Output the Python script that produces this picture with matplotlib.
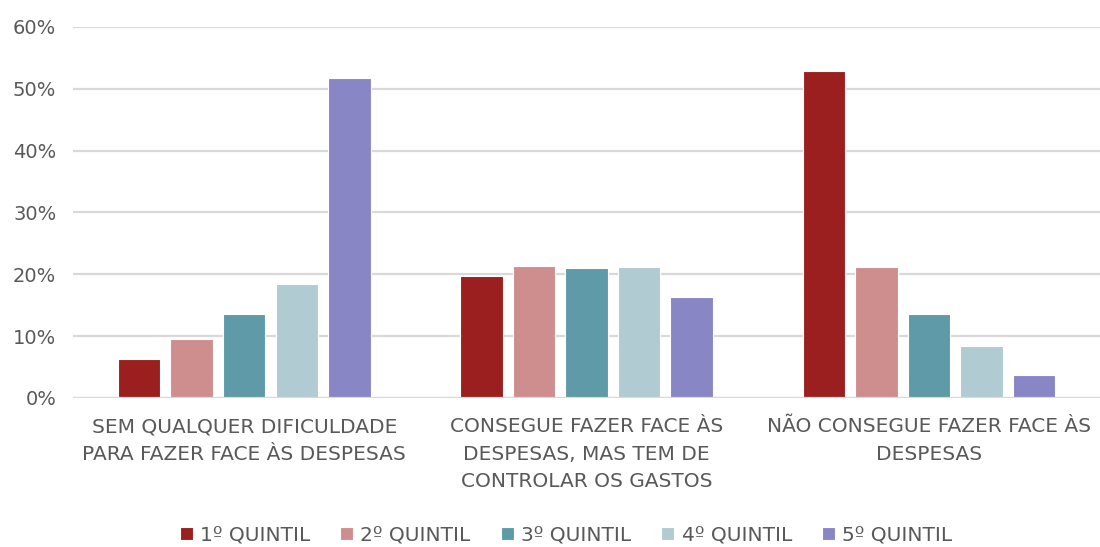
import matplotlib.pyplot as plt
import numpy as np
from matplotlib.ticker import PercentFormatter

# Dados
categorias = ['SEM QUALQUER DIFICULDADE\nPARA FAZER FACE ÀS DESPESAS',
              'CONSEGUE FAZER FACE ÀS\nDESPESAS, MAS TEM DE\nCONTROLAR OS GASTOS',
              'NÃO CONSEGUE FAZER FACE ÀS\nDESPESAS']
quintis = ['1º QUINTIL', '2º QUINTIL', '3º QUINTIL', '4º QUINTIL', '5º QUINTIL']
q1 = [6.3, 19.8, 52.9]
q2 = [9.5, 21.4, 21.2]
q3 = [13.5, 21.0, 13.6]
q4 = [18.5, 21.2, 8.4]
q5 = [51.7, 16.4, 3.7]
cores = ['#9B1F1F', '#CE8E8E', '#5F9AA8', '#B0CCD2', '#8986C6']

series = [q1, q2, q3, q4, q5]
texto = '#595959'
plt.rcParams['font.family'] = ['DejaVu Sans']

fig = plt.figure(figsize=(11, 5.47), dpi=100)
ax = fig.add_axes([0.0664, 0.2724, 0.9336, 0.6786])

x = np.arange(len(categorias))
passo = 0.1535
largura = 0.124
for i, (vals, cor, nome) in enumerate(zip(series, cores, quintis)):
    ax.bar(x + (i - 2) * passo, vals, width=largura, color=cor,
           edgecolor='white', linewidth=0.8, label=nome, zorder=3)

ax.set_xlim(-0.5, 2.5)
ax.set_ylim(0, 60)
ax.set_yticks(np.arange(0, 61, 10))
ax.yaxis.set_major_formatter(PercentFormatter(decimals=0))
ax.grid(axis='y', color='#d9d9d9', linewidth=1.6, zorder=0)
ax.axhline(0, color='#d9d9d9', linewidth=1.6, zorder=4)
for s in ax.spines.values():
    s.set_visible(False)

ax.set_xticks(x)
ax.set_xticklabels(categorias, fontsize=14.5, color=texto, linespacing=1.55)
ax.tick_params(axis='x', length=0, pad=14)
ax.tick_params(axis='y', length=0, labelsize=14, labelcolor=texto, pad=12)

ax.legend(loc='center', bbox_to_anchor=(0.48, -0.369), ncol=5, frameon=False,
          fontsize=14.5, labelcolor=texto, handlelength=0.65, handleheight=0.65,
          handletextpad=0.35, columnspacing=1.5)

fig.savefig('out.png', dpi=100)
